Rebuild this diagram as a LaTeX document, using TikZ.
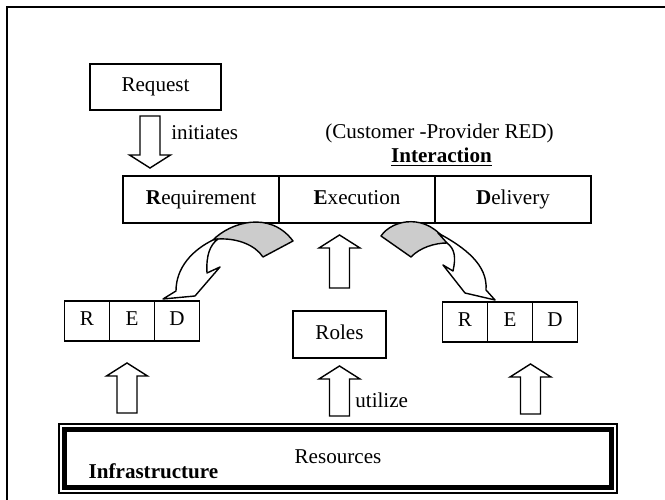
\documentclass[tikz,border=0pt]{standalone}
\usepackage{fontspec}
\setmainfont{Liberation Serif}
\usetikzlibrary{positioning,calc}
\definecolor{ribbongray}{HTML}{CCCCCC}

\begin{document}
\begin{tikzpicture}[
  font=\fontsize{12}{14}\selectfont,
  box/.style={draw,line width=0.8pt,inner sep=0pt,outer sep=0pt,
              text height=1.6ex,text depth=0.45ex},
  cell/.style={box,minimum width=3.12cm,minimum height=0.94cm},
  sml/.style={box,minimum width=0.9cm,minimum height=0.8cm},
  lbl/.style={inner sep=0pt},
  blk/.style={draw,fill=white,line width=0.8pt,
    to path={
      ($(\tikztostart)!0.2cm!90:(\tikztotarget)$)
      -- ($(\tikztotarget)!0.26cm!(\tikztostart)!0.2cm!90:(\tikztotarget)$)
      -- ($(\tikztotarget)!0.26cm!(\tikztostart)!0.41cm!90:(\tikztotarget)$)
      -- (\tikztotarget)
      -- ($(\tikztotarget)!0.26cm!(\tikztostart)!0.41cm!-90:(\tikztotarget)$)
      -- ($(\tikztotarget)!0.26cm!(\tikztostart)!0.2cm!-90:(\tikztotarget)$)
      -- ($(\tikztostart)!0.2cm!-90:(\tikztotarget)$) -- cycle}},
  ribbon/.style={draw,line width=0.8pt,line join=round}
]
\useasboundingbox (0,0) rectangle (13.3,-10);

% ---- Frame --------------------------------------------------
\draw[line width=1.1pt] (0.14,-10) -- (0.14,-0.14) -- (13.3,-0.14);

% ---- Request ------------------------------------------------
\node[box,minimum width=2.62cm,minimum height=0.92cm] (request) at (3.11,-1.74) {Request};
\node[lbl,anchor=west] (ini) at (3.42,-2.66) {initiates};

% ---- Interaction row ----------------------------------------
\node[cell] (req) at (4.02,-3.99) {\textbf{R}equirement};
\node[cell,right=0pt of req] (exe) {\textbf{E}xecution};
\node[cell,right=0pt of exe] (del) {\textbf{D}elivery};
\node[lbl] (cust) at (8.79,-2.66) {(Customer -Provider RED)};
\node[lbl] (inter) at (8.83,-3.14) {\underline{\textbf{Interaction}}};

% ---- Left RED -----------------------------------------------
\node[sml] (lr) at (1.74,-6.42) {R};
\node[sml,right=0pt of lr] (le) {E};
\node[sml,right=0pt of le] (ld) {D};

% ---- Roles --------------------------------------------------
\node[box,minimum width=1.86cm,minimum height=0.94cm] (roles) at (6.79,-6.69) {Roles};
\node[lbl,anchor=west] (util) at (7.1,-8.0) {utilize};

% ---- Right RED ----------------------------------------------
\node[sml] (rr) at (9.30,-6.44) {R};
\node[sml,right=0pt of rr] (re) {E};
\node[sml,right=0pt of re] (rd) {D};

% ---- Resources ----------------------------------------------
\node[box,minimum width=11.16cm,minimum height=1.38cm] (res) at (6.76,-9.17) {Resources};
\draw[line width=3.2pt] ($(res.north west)+(0.11,-0.11)$) rectangle ($(res.south east)+(-0.11,0.11)$);
\node[lbl,font=\fontsize{12}{14}\selectfont\bfseries] (infra) at (3.07,-9.42) {Infrastructure};

% ---- Block arrows -------------------------------------------
\draw[blk] ($(request.south)+(-0.11,-0.12)$) to ($(request.south |- req.north)+(-0.11,0.16)$);
\draw[blk] ($(roles.north)+(0,0.46)$) to ($(roles.north |- exe.south)+(0,-0.24)$);
\draw[blk] ($(res.north -| le.south)+(-0.1,0.22)$) to ($(le.south)+(-0.1,-0.44)$);
\draw[blk] ($(res.north -| roles.south)+(0,0.16)$) to ($(roles.south)+(0,-0.16)$);
\draw[blk] ($(res.north -| rd.south west)+(-0.04,0.2)$) to ($(rd.south west)+(-0.04,-0.44)$);

% ---- Curved arrows ------------------------------------------
\draw[ribbon,fill=ribbongray] (4.26,-4.80) .. controls (4.6,-4.45) and (5.4,-4.2) .. (5.86,-4.82)
  -- (5.26,-5.14) .. controls (5.1,-4.9) and (4.75,-4.76) .. (4.36,-4.78) -- cycle;
\draw[ribbon,fill=white] (4.26,-4.80) .. controls (3.85,-5.0) and (3.52,-5.35) .. (3.52,-5.82)
  -- (3.26,-5.98) -- (3.90,-5.92) -- (4.40,-5.34) -- (4.14,-5.46)
  .. controls (4.12,-5.1) and (4.2,-4.9) .. (4.36,-4.78) -- cycle;

\draw[ribbon,fill=ribbongray] (7.62,-4.72) .. controls (7.85,-4.38) and (8.55,-4.25) .. (8.94,-4.86)
  .. controls (8.7,-4.86) and (8.4,-4.95) .. (8.22,-5.14) -- cycle;
\draw[ribbon,fill=white] (8.76,-4.66) .. controls (9.3,-4.95) and (9.76,-5.3) .. (9.72,-5.80)
  -- (9.9,-6.0) -- (9.30,-5.86) -- (8.86,-5.30) -- (9.06,-5.42)
  .. controls (9.12,-5.15) and (9.1,-4.98) .. (8.94,-4.86) -- cycle;

\end{tikzpicture}
\end{document}
